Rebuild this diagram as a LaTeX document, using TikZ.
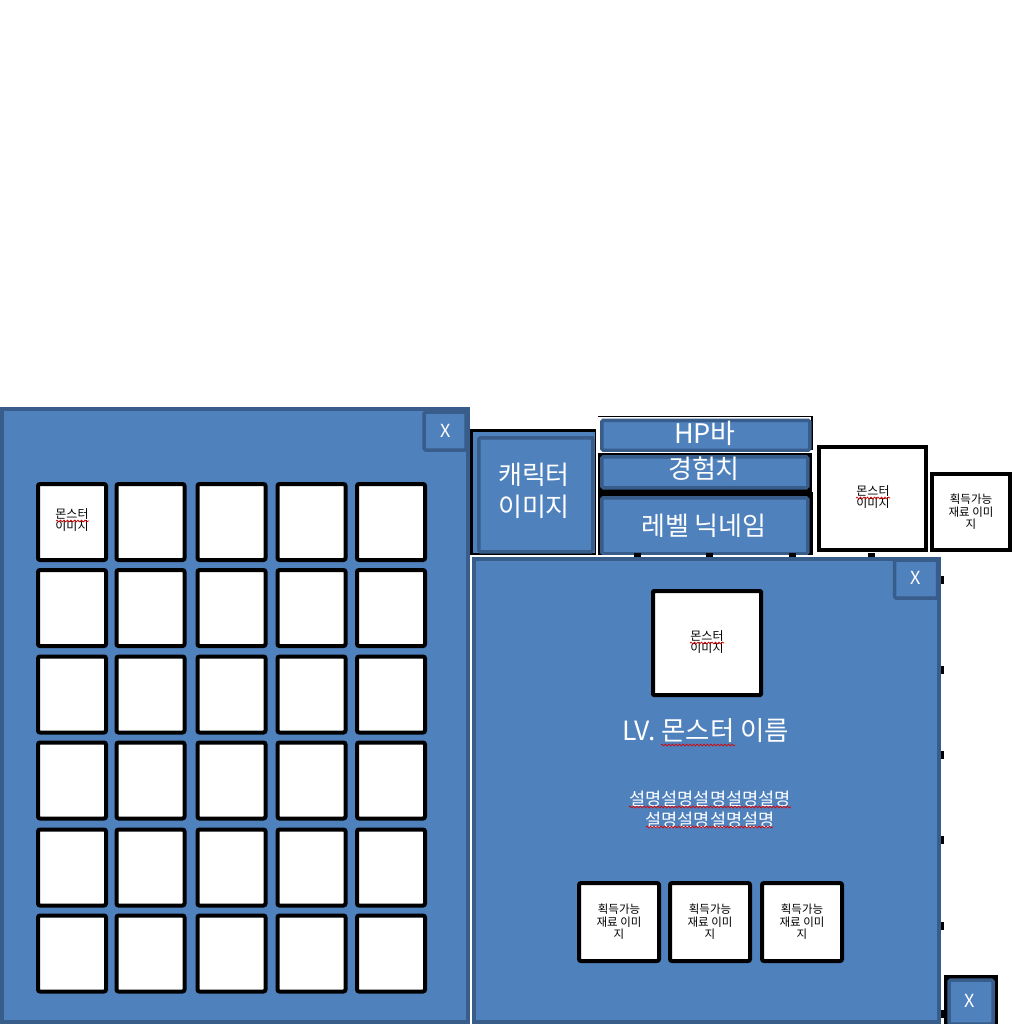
\documentclass[tikz,border=0pt]{standalone}
\usepackage{fontspec}
\setmainfont{Noto Sans CJK KR}
\usetikzlibrary{decorations.pathmorphing}
\definecolor{blueA}{HTML}{4F81BD}
\definecolor{blueB}{HTML}{385D8A}
\tikzset{
  panel/.style={draw=blueB, fill=blueA, line width=3.5pt},
  bluebox/.style={draw=blueB, fill=blueA, line width=3.5pt, rounded corners=1.5pt, inner sep=0pt},
  cell/.style={draw=black, fill=white, line width=4pt, rounded corners=2pt, inner sep=0pt},
  wtxt/.style={text=white, inner sep=0pt, align=center},
  btxt/.style={text=black, inner sep=0pt, align=center},
  spell/.style={draw=red!85!black, line width=0.7pt, decorate, decoration={snake, amplitude=0.9pt, segment length=3.5pt}},
  handlemark/.style={fill=black}
}
\begin{document}
\begin{tikzpicture}[x=1pt,y=-1pt]
\useasboundingbox (0,0) rectangle (1024,1024);
\fill[white] (0,0) rectangle (1024,1024);

% ---------- left panel ----------
\draw[black, line width=1pt] (0,407) -- (470,407);
\draw[panel] (2,409) rectangle (468,1022);
\node[bluebox, minimum width=42, minimum height=38] (lx) at (445,431) {};
\node[wtxt, font=\fontsize{18}{20}\selectfont] (lxt) at (446,431) {X};

% grid
\foreach \c/\x in {1/72,2/150.5,3/231.5,4/311.5,5/391}{
  \foreach \r/\y in {1/522,2/608,3/694.5,4/780.5,5/867.5,6/953.5}{
    \node[cell, minimum width=68, minimum height=76] (g\c\r) at (\x,\y) {};
  }
}
\node[btxt, font=\fontsize{12}{10}\selectfont] (g11t) at (72,520) {몬스터\\이미지};
\draw[spell] (56,521) -- (89,521);

% ---------- top status area ----------
\fill[black] (470,429) rectangle (598,556);
\fill[blueA] (473,432) rectangle (595,553);
\node[bluebox, minimum width=114, minimum height=114, anchor=north west] (char) at (477,436) {};
\draw[blueB, line width=2pt] (593,436) -- (593,551);
\node[wtxt, font=\fontsize{26}{32}\selectfont] (chart) at (534,491) {캐릭터\\이미지};

\draw[black, line width=1pt] (597,416) -- (813,416);
\draw[black, line width=2pt] (812,416) -- (812,450);
\node[bluebox, minimum width=208, minimum height=30, anchor=north west] (hp) at (600,418.5) {};
\node[wtxt, font=\fontsize{27}{30}\selectfont] (hpt) at (705,433) {HP바};

\fill[black] (597,452) rectangle (812,492);
\draw[white, line width=1pt] (597,452) -- (812,452);
\node[bluebox, minimum width=206, minimum height=31, anchor=north west] (exp) at (600,455) {};
\node[wtxt, font=\fontsize{26}{30}\selectfont] (expt) at (704,469) {경험치};

\fill[black] (597,492) rectangle (813,556);
\node[bluebox, minimum width=206, minimum height=56, anchor=north west] (lvl) at (600,496) {};
\node[wtxt, font=\fontsize{26}{30}\selectfont] (lvlt) at (704,526) {레벨 닉네임};
\draw[white, line width=1.2pt] (597,416) -- (597,556);
\draw[white, line width=1.2pt] (470,556) -- (1014,556);

% top-right boxes
\node[cell, rounded corners=0pt, minimum width=107, minimum height=103] (mimg) at (872.5,498.5) {};
\node[btxt, font=\fontsize{12}{10}\selectfont] (mimgt) at (873,497) {몬스터\\이미지};
\draw[spell] (856,498) -- (890,498);
\node[cell, rounded corners=0pt, minimum width=78, minimum height=76] (mat0) at (971,512) {};
\node[btxt, font=\fontsize{11.5}{12.5}\selectfont] (mat0t) at (971,512) {획득가능\\재료 이미\\지};

% hidden handle marks
\foreach \x in {634,706,789,868}{ \fill[handlemark] (\x,553) rectangle (\x+7,557); }
\foreach \y in {576,666,751,836,922,1010}{ \fill[handlemark] (941,\y) rectangle (944,\y+8); }

% ---------- right panel ----------
\draw[panel] (474,559) rectangle (939,1022);
\node[bluebox, minimum width=43, minimum height=38] (rx) at (916,579) {};
\node[wtxt, font=\fontsize{18}{20}\selectfont] (rxt) at (916,578) {X};

\node[cell, rounded corners=1pt, minimum width=108, minimum height=104] (pm) at (707,643) {};
\node[btxt, font=\fontsize{12}{10}\selectfont] (pmt) at (707,642) {몬스터\\이미지};
\draw[spell] (690,643) -- (724,643);

\node[wtxt, font=\fontsize{26.5}{30}\selectfont] (lvname) at (706,731) {LV. 몬스터 이름};
\draw[spell] (661,745) -- (735,745);

\node[wtxt, font=\fontsize{17.5}{21}\selectfont] (desc) at (710,809) {설명설명설명설명설명\\설명설명설명설명};
\draw[spell] (629,807) -- (791,807);
\draw[spell] (646,827) -- (773,827);

\foreach \i/\x in {1/619,2/710,3/802}{
  \node[cell, rounded corners=2pt, minimum width=80, minimum height=78] (m\i) at (\x,922) {};
  \node[btxt, font=\fontsize{11.5}{12.5}\selectfont] (m\i t) at (m\i) {획득가능\\재료 이미\\지};
}

% ---------- bottom right X ----------
\fill[black] (944,975) rectangle (998,1024);
\node[bluebox, minimum width=44, minimum height=44] (bx) at (971,1002) {};
\node[wtxt, font=\fontsize{18}{20}\selectfont] (bxt) at (970,1001) {X};
\end{tikzpicture}
\end{document}
